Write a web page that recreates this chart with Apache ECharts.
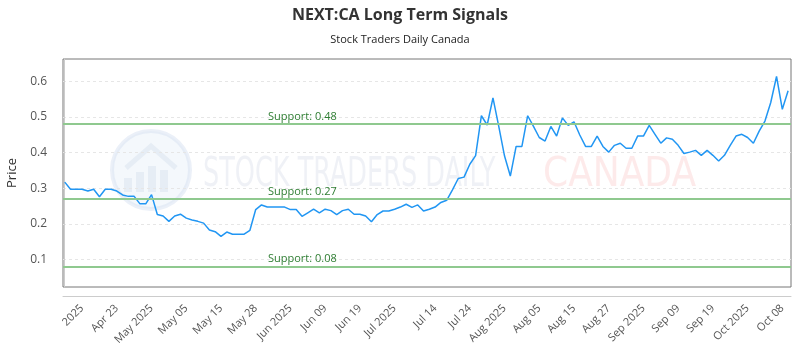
<!DOCTYPE html>
<html>
<head>
<meta charset="utf-8">
<title>NEXT:CA Long Term Signals</title>
<script src="https://cdn.jsdelivr.net/npm/echarts@6.0.0/dist/echarts.min.js"></script>
<style>
    html, body { margin: 0; padding: 0; background: #fff; }
    #chart { width: 800px; height: 350px; }
</style>
</head>
<body>
<div id="chart"></div>
<script>
(function () {
    'use strict';

    // closing prices, one per session
    var prices = [
        0.317, 0.297, 0.297, 0.297, 0.292, 0.297, 0.276, 0.297, 0.297, 0.292,
        0.281, 0.277, 0.277, 0.256, 0.256, 0.282, 0.226, 0.222, 0.207, 0.222,
        0.227, 0.216, 0.211, 0.207, 0.202, 0.183, 0.178, 0.165, 0.177, 0.171,
        0.171, 0.171, 0.182, 0.240, 0.253, 0.247, 0.247, 0.247, 0.247, 0.240,
        0.240, 0.221, 0.231, 0.241, 0.231, 0.241, 0.237, 0.226, 0.237, 0.241,
        0.227, 0.227, 0.222, 0.206, 0.226, 0.236, 0.236, 0.241, 0.247, 0.255,
        0.246, 0.253, 0.236, 0.241, 0.247, 0.260, 0.266, 0.295, 0.327, 0.331,
        0.367, 0.391, 0.503, 0.477, 0.553, 0.473, 0.390, 0.334, 0.417, 0.417,
        0.503, 0.473, 0.442, 0.432, 0.473, 0.446, 0.497, 0.476, 0.486, 0.449,
        0.417, 0.417, 0.446, 0.417, 0.401, 0.420, 0.426, 0.412, 0.412, 0.446,
        0.446, 0.476, 0.451, 0.426, 0.441, 0.437, 0.420, 0.397, 0.401, 0.406,
        0.392, 0.406, 0.392, 0.376, 0.392, 0.420, 0.446, 0.451, 0.442, 0.426,
        0.460, 0.488, 0.540, 0.613, 0.521, 0.573
    ];

    // x tick labels and the session index each one sits on
    var tickLabels = [
        '2025', 'Apr 23', 'May 2025', 'May 05', 'May 15', 'May 28', 'Jun 2025',
        'Jun 09', 'Jun 19', 'Jul 2025', 'Jul 14', 'Jul 24', 'Aug 2025', 'Aug 05',
        'Aug 15', 'Aug 27', 'Sep 2025', 'Sep 09', 'Sep 19', 'Oct 2025', 'Oct 08'
    ];
    var tickIndex = [3, 9, 15, 21, 27, 33, 39, 45, 51, 57, 64, 70, 76, 82, 88, 94, 100, 106, 112, 118, 124];

    var yTicks = [0.1, 0.2, 0.3, 0.4, 0.5, 0.6];
    var supportLevels = [0.482, 0.271, 0.081];

    var font = '"Open Sans", "Noto Sans", sans-serif';
    var chart = echarts.init(document.getElementById('chart'), null, { renderer: 'canvas' });

    var seriesData = prices.map(function (p, i) { return [i, p]; });

    var markData = supportLevels.map(function (lvl) {
        return {
            yAxis: lvl,
            label: { formatter: 'Support: ' + lvl.toFixed(2) }
        };
    });

    var wmBlue = 'rgba(200,212,230,0.3)';

    chart.setOption({
        animation: false,
        backgroundColor: '#fff',
        textStyle: { fontFamily: font },
        title: {
            left: 'center',
            top: 2,
            text: 'NEXT:CA Long Term Signals',
            subtext: 'Stock Traders Daily Canada',
            itemGap: 11,
            textStyle: { fontFamily: font, fontSize: 16, fontWeight: 'bold', color: '#333' },
            subtextStyle: { fontFamily: font, fontSize: 11, color: '#222' }
        },
        graphic: [
            // faint watermark: round logo + wordmark
            {
                type: 'circle', z: -1, silent: true,
                shape: { cx: 151, cy: 170, r: 39 },
                style: { fill: 'rgba(220,232,246,0.3)', stroke: 'rgba(210,222,240,0.45)', lineWidth: 4 }
            },
            {
                type: 'polyline', z: -1, silent: true,
                shape: { points: [[126, 168], [151, 146], [176, 168]] },
                style: { stroke: wmBlue, lineWidth: 5, fill: null }
            },
            {
                type: 'group', z: -1, silent: true,
                children: [
                    { type: 'rect', shape: { x: 124, y: 178, width: 8, height: 14 }, style: { fill: wmBlue } },
                    { type: 'rect', shape: { x: 136, y: 172, width: 8, height: 20 }, style: { fill: wmBlue } },
                    { type: 'rect', shape: { x: 148, y: 166, width: 8, height: 26 }, style: { fill: wmBlue } },
                    { type: 'rect', shape: { x: 160, y: 170, width: 8, height: 22 }, style: { fill: wmBlue } }
                ]
            },
            {
                type: 'text', z: -1, silent: true, left: 203, top: 156,
                style: {
                    text: 'STOCK TRADERS DAILY', fill: 'rgba(205,213,228,0.32)',
                    font: '40px "DejaVu Sans Condensed", "DejaVu Sans", sans-serif'
                },
                scaleX: 0.71
            },
            {
                type: 'text', z: -1, silent: true, left: 543, top: 156,
                style: {
                    text: 'CANADA', fill: 'rgba(250,195,195,0.35)',
                    font: '40px "DejaVu Sans", sans-serif'
                },
                scaleX: 0.9
            }
        ],
        grid: {
            left: 63, right: 9, top: 59, bottom: 63,
            show: true, borderColor: '#777', borderWidth: 1,
            outerBoundsMode: 'none'
        },
        xAxis: {
            type: 'value',
            min: -0.3,
            max: 125.5,
            offset: 9.5,
            axisLine: { show: true, lineStyle: { color: '#ccc' } },
            axisTick: { show: false },
            splitLine: { show: false },
            axisLabel: {
                customValues: tickIndex,
                rotate: 45,
                margin: 10,
                fontSize: 11,
                color: '#555',
                fontFamily: font,
                formatter: function (v) {
                    var k = tickIndex.indexOf(v);
                    return k >= 0 ? tickLabels[k] : '';
                }
            }
        },
        yAxis: {
            type: 'value',
            min: 0.023,
            max: 0.662,
            offset: 10,
            name: 'Price',
            nameLocation: 'middle',
            nameGap: 32,
            nameTextStyle: { fontSize: 13, color: '#333', fontFamily: font },
            axisLine: { show: true, lineStyle: { color: '#ccc' } },
            axisTick: { show: false, customValues: yTicks },
            axisLabel: {
                customValues: yTicks,
                margin: 6,
                fontSize: 12,
                color: '#555',
                fontFamily: font,
                formatter: function (v) { return v.toFixed(1); }
            },
            splitLine: { show: true, lineStyle: { color: '#e6e6e6', type: [3, 3] } }
        },
        series: [{
            type: 'line',
            data: seriesData,
            symbol: 'none',
            lineStyle: { color: '#2196f3', width: 1.5 },
            markLine: {
                silent: true,
                symbol: 'none',
                lineStyle: { color: '#8fc98f', width: 2, type: 'solid' },
                label: {
                    position: 'insideStartTop',
                    distance: 2,
                    padding: [0, 0, 0, 203],
                    color: '#2e7d32',
                    fontSize: 11,
                    fontFamily: font
                },
                data: markData
            }
        }]
    });
})();
</script>
</body>
</html>
